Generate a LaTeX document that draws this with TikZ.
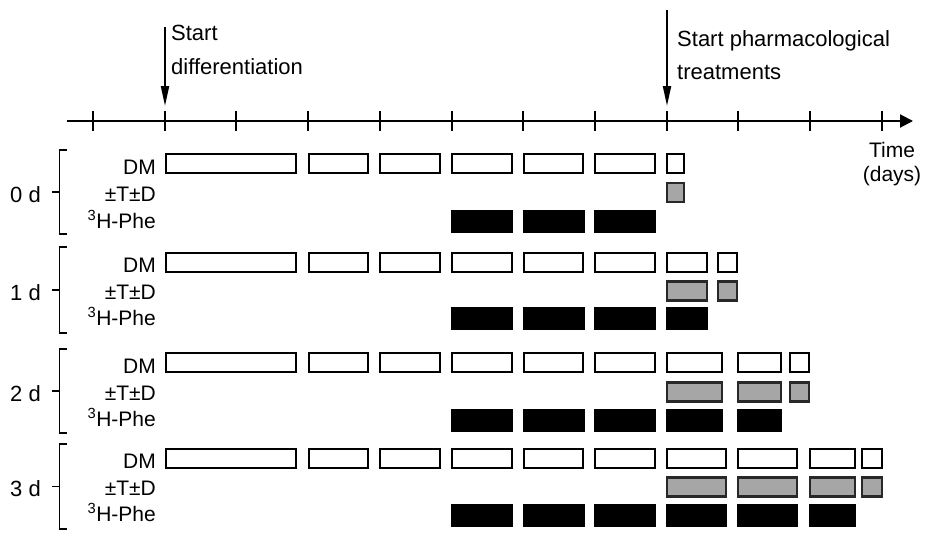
\documentclass[tikz,border=0pt]{standalone}
\usepackage{fontspec}
\setmainfont{Liberation Sans}
\usepackage{tikz}
\usetikzlibrary{arrows.meta, positioning}
\definecolor{DrugGrey}{RGB}{166, 166, 166}
\definecolor{EdgeGrey}{RGB}{40, 40, 40}

\begin{document}
\begin{tikzpicture}[x=1pt, y=-1pt]
        \tikzstyle{txt} = [font=\fontsize{22}{33.5}\selectfont, inner sep=0pt, align=left]
        \tikzstyle{rowtxt} = [font=\fontsize{21}{24}\selectfont, inner sep=0pt, anchor=base east]
        \tikzstyle{grptxt} = [font=\fontsize{22}{26}\selectfont, inner sep=0pt, anchor=base]
        \tikzstyle{dmbox} = [draw=black, line width=2pt, fill=white]
        \tikzstyle{drugbox} = [draw=EdgeGrey, line width=2.4pt, fill=DrugGrey]
        \tikzstyle{phebox} = [fill=black]
        \tikzstyle{bracket} = [line width=1.3pt]
        \tikzstyle{startarrow} = [-{Triangle[length=20pt, width=8pt]}, line width=2pt]
        \tikzstyle{timeaxis} = [-{Triangle[length=13pt, width=13pt]}, line width=2pt]

        \useasboundingbox (0,0) rectangle (925,551);

        % Time axis
        \coordinate (t0) at (67,121);
        \coordinate (tend) at (913,121);
        \draw[timeaxis] (t0) -- (tend);
        \foreach \i in {0,...,11}
            \draw[line width=2pt] ({93+71.7*\i},111) -- ({93+71.7*\i},131);
        \node[font=\fontsize{21}{24}\selectfont, inner sep=0pt, align=center, anchor=north] (time) at (892,142) {Time\\(days)};

        % Start markers
        \coordinate (diffTop) at (165,27);
        \coordinate (diffTip) at (165,106);
        \draw[startarrow] (diffTop) -- (diffTip);
        \node[txt, anchor=north west] (diff) at (171,25) {Start\\differentiation};

        \coordinate (drugTop) at (667,10);
        \coordinate (drugTip) at (667,106);
        \draw[startarrow] (drugTop) -- (drugTip);
        \node[txt, anchor=north west] (drug) at (677,30) {Start pharmacological\\treatments};

        % Groups: labels, brackets and the common boxes
        \foreach \g/\yd/\yt/\yh/\ya/\yb in {0/163.5/192.5/221.5/150/234, 1/262/291/318.5/247/333, 2/362.5/392/420/349/433, 3/458/487/515/444/529} {
            \draw[bracket] (66.5,\ya) -- (59.3,\ya) -- (59.3,\yb) -- (66.5,\yb);
            \draw[bracket] (59.3,{(\ya+\yb)/2}) -- (51.7,{(\ya+\yb)/2});
            \node[grptxt] (grp\g) at (25.5,{(\ya+\yb)/2+10}) {\g{} d};

            \node[rowtxt] (dm\g) at (156,{\yd+10.5}) {DM};
            \node[rowtxt] (td\g) at (156,{\yt+8.5}) {±T±D};
            \node[rowtxt] (phe\g) at (156,{\yh+6.5}) {\textsuperscript{3}H-Phe};

            \draw[dmbox] (166,{\yd-9.5}) rectangle (296,{\yd+9.5});
            \foreach \i in {3,...,7}
                \draw[dmbox] ({93+71.7*\i+0.5},{\yd-9.5}) rectangle ({93+71.7*\i+60},{\yd+9.5});
            \foreach \i in {5,6,7}
                \fill[phebox] ({93+71.7*\i-0.5},{\yh-11.5}) rectangle ({93+71.7*\i+61.5},{\yh+11.5});
        }

        % Treatment period, 0 d
        \foreach \a/\b in {667/684} {
            \draw[dmbox] (\a,154) rectangle (\b,173);
            \draw[drugbox] (\a,183) rectangle (\b,202);
        }

        % Treatment period, 1 d
        \foreach \a/\b in {667/707, 718/737} {
            \draw[dmbox] (\a,252.5) rectangle (\b,271.5);
            \draw[drugbox] (\a,281.5) rectangle (\b,300.5);
        }
        \fill[phebox] (666,307) rectangle (708,330);

        % Treatment period, 2 d
        \foreach \a/\b in {667/722, 738/781, 790/809} {
            \draw[dmbox] (\a,353) rectangle (\b,372);
            \draw[drugbox] (\a,382.5) rectangle (\b,401.5);
        }
        \foreach \a/\b in {666/723, 737/782}
            \fill[phebox] (\a,408.5) rectangle (\b,431.5);

        % Treatment period, 3 d
        \foreach \a/\b in {667/726, 738/797, 810/855, 862/882} {
            \draw[dmbox] (\a,448.5) rectangle (\b,467.5);
            \draw[drugbox] (\a,477.5) rectangle (\b,496.5);
        }
        \foreach \a/\b in {666/727, 737/798, 809/856}
            \fill[phebox] (\a,503.5) rectangle (\b,526.5);
    \end{tikzpicture}
\end{document}
